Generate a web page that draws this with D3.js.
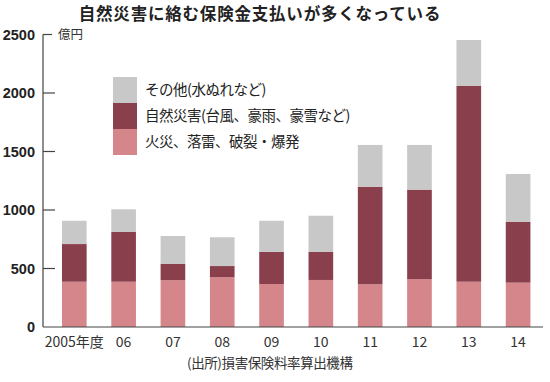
<!DOCTYPE html>
<html><head><meta charset="utf-8">
<script src="https://cdn.jsdelivr.net/npm/d3@7"></script>
<style>body{margin:0;background:#fff}svg{display:block}</style>
</head><body>
<svg id="c" width="550" height="382"></svg>
<script>
const categories = ["2005年度","06","07","08","09","10","11","12","13","14"];
const fire = [387,387,400,425,367,402,365,410,387,379];
const natural = [322,425,141,96,275,242,834,764,1673,521];
const other = [199,194,237,246,266,307,357,382,393,408];
const seriesKeys = ["fire","natural","other"];
const seriesLabels = ["火災、落雷、破裂・爆発","自然災害(台風、豪雨、豪雪など)","その他(水ぬれなど)"];
const seriesColors = ["#d4868b","#8a404c","#c8c8c8"];
const yTicks = [0,500,1000,1500,2000,2500];
const title = "自然災害に絡む保険金支払いが多くなっている";
const unit = "億円";
const source = "(出所)損害保険料率算出機構";

const svg = d3.select("#c");
const font = "'Liberation Sans','Noto Sans CJK JP',sans-serif";
const jfont = "'Noto Sans CJK JP',sans-serif";

const rows = categories.map((c,i)=>({cat:c, fire:fire[i], natural:natural[i], other:other[i]}));
const stack = d3.stack().keys(seriesKeys)(rows);

const x = d3.scaleBand().domain(categories).range([45.7,546.7]).paddingInner(0.5).paddingOuter(0.33);
const y = d3.scaleLinear().domain([0,2500]).range([327,34.5]);

// title
svg.append("text").attr("x",260).attr("y",20).attr("text-anchor","middle")
  .attr("font-family",jfont).attr("font-weight","bold").attr("font-size",16.5)
  .attr("letter-spacing",0.8).attr("fill","#222").text(title);

// bars
const g = svg.append("g");
stack.forEach((s,si)=>{
  g.selectAll(null).data(s).join("rect")
    .attr("x",d=>x(d.data.cat)).attr("width",x.bandwidth())
    .attr("y",d=>y(d[1])).attr("height",d=>y(d[0])-y(d[1]))
    .attr("fill",seriesColors[si]);
});

// axes
svg.append("line").attr("x1",43).attr("x2",43).attr("y1",y(2500)).attr("y2",y(0))
  .attr("stroke","#444").attr("stroke-width",1.2);
svg.append("line").attr("x1",43).attr("x2",543).attr("y1",y(0)).attr("y2",y(0))
  .attr("stroke","#444").attr("stroke-width",1.2);
const yt = svg.append("g");
yt.selectAll(null).data(yTicks.slice(1)).join("line")
  .attr("x1",43).attr("x2",d=>d===2500?52:55).attr("y1",d=>y(d)).attr("y2",d=>y(d))
  .attr("stroke","#444").attr("stroke-width",1.2);
yt.selectAll(null).data(yTicks).join("text")
  .attr("x",35).attr("y",d=>y(d)).attr("dy","0.36em").attr("text-anchor","end")
  .attr("font-family",font).attr("font-weight","bold").attr("font-size",14.5)
  .attr("fill","#222").text(d=>d);
svg.append("text").attr("x",58).attr("y",y(2500)).attr("dy","0.36em")
  .attr("font-family",jfont).attr("font-size",12.5).attr("fill","#333").text(unit);

// x labels
svg.append("g").selectAll(null).data(categories).join("text")
  .attr("x",d=>x(d)+x.bandwidth()/2).attr("y",342).attr("dy","0.36em")
  .attr("text-anchor","middle").attr("font-family",jfont).attr("font-size",14)
  .attr("fill","#333").text(d=>d);

// source
svg.append("text").attr("x",187).attr("y",363).attr("dy","0.36em")
  .attr("font-family",jfont).attr("font-size",13.5).attr("fill","#333")
  .attr("letter-spacing",-0.4).text(source);

// legend (top to bottom: other, natural, fire)
const leg = svg.append("g");
const order = [2,1,0];
order.forEach((si,k)=>{
  leg.append("rect").attr("x",113).attr("y",77+k*26).attr("width",24).attr("height",26)
    .attr("fill",seriesColors[si]);
  leg.append("text").attr("x",145).attr("y",90+k*26).attr("dy","0.36em")
    .attr("font-family",jfont).attr("font-size",14.5).attr("fill","#222")
    .attr("letter-spacing",-0.5).text(seriesLabels[si]);
});
</script>
</body></html>
